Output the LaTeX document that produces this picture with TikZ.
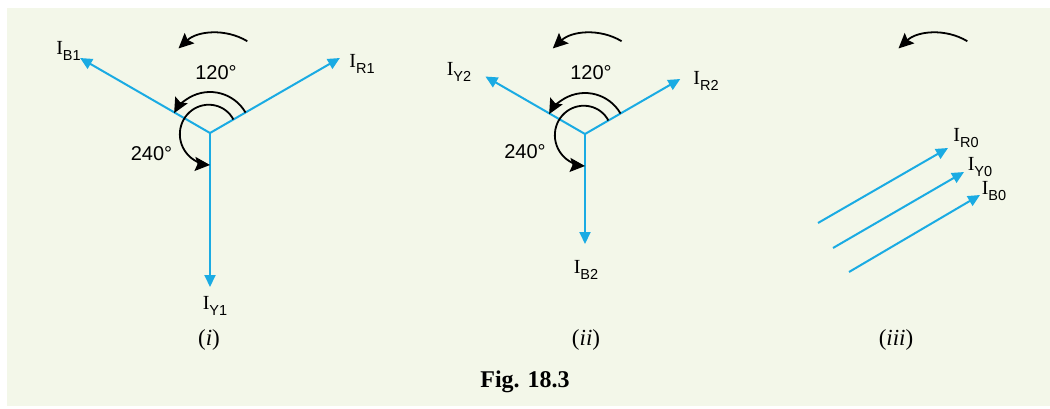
\documentclass[tikz,border=0pt]{standalone}
\usepackage{fontspec}
\setmainfont{Liberation Serif}
\setsansfont{Liberation Sans}
\usetikzlibrary{arrows.meta}
\definecolor{bgc}{HTML}{F3F7E9}
\definecolor{vec}{HTML}{1AABE3}
\newcommand{\curlab}[1]{\fontsize{20}{20}\selectfont I\raisebox{-6pt}{\sffamily\fontsize{14.5}{14.5}\selectfont #1}}
\begin{document}
\begin{tikzpicture}[x=1pt,y=1pt,
 phasor/.style={draw=vec, line width=2pt, -{Triangle[length=12pt,width=11pt]}},
 rot/.style={draw=black, line width=1.8pt, -{Stealth[length=15pt,width=14pt,inset=2.5pt]}},
 lab/.style={inner sep=0pt},
 deg/.style={inner sep=0pt,font=\sffamily\fontsize{20}{20}\selectfont},
 captxt/.style={inner sep=0pt,font=\fontsize{23}{23}\selectfont},
 figcap/.style={inner sep=0pt,font=\bfseries\fontsize{24}{24}\selectfont}]
\useasboundingbox (0,0) rectangle (1050,408);
\fill[bgc] (7,2) rectangle (1050,400);

% ---------- (i) ----------
\coordinate (O1) at (210,275);
\path (O1) ++(30:150) coordinate (R1);
\path (O1) ++(150:150) coordinate (B1);
\path (O1) ++(270:154) coordinate (Y1);
\draw[phasor] (O1) -- (R1);
\draw[phasor] (O1) -- (B1);
\draw[phasor] (O1) -- (Y1);
\draw[rot] ([shift={(30:41)}]O1) arc[start angle=30,end angle=151,radius=41];
\draw[rot,shift={(O1)}] plot[smooth,domain=30:270,samples=40]
  ({(27+5*(\x-30)/240)*cos(\x)},{(27+5*(\x-30)/240)*sin(\x)});
\coordinate (T1) at (217.7,317.5);
\draw[rot] ([shift={(59:57.5)}]T1) arc[start angle=59,end angle=133,radius=57.5];
\node[lab] (lB1) at (68.5,357) {\curlab{B1}};
\node[lab] (lR1) at (362,344) {\curlab{R1}};
\node[lab] (lY1) at (215,102) {\curlab{Y1}};
\node[deg] (d1a) at (216,335) {120°};
\node[deg] (d1b) at (151.5,254) {240°};
\node[captxt] (c1) at (209,68) {(\textit{i})};

% ---------- (ii) ----------
\coordinate (O2) at (585,274);
\path (O2) ++(30:110) coordinate (R2);
\path (O2) ++(150:115) coordinate (Y2);
\path (O2) ++(270:110) coordinate (B2);
\draw[phasor] (O2) -- (R2);
\draw[phasor] (O2) -- (Y2);
\draw[phasor] (O2) -- (B2);
\draw[rot] ([shift={(30:41)}]O2) arc[start angle=30,end angle=151,radius=41];
\draw[rot,shift={(O2)}] plot[smooth,domain=30:270,samples=40]
  ({(27+5*(\x-30)/240)*cos(\x)},{(27+5*(\x-30)/240)*sin(\x)});
\coordinate (T2) at (592,317.5);
\draw[rot] ([shift={(59:57.5)}]T2) arc[start angle=59,end angle=133,radius=57.5];
\node[lab] (lY2) at (459,336) {\curlab{Y2}};
\node[lab] (lR2) at (706,327) {\curlab{R2}};
\node[lab] (lB2) at (586,138) {\curlab{B2}};
\node[deg] (d2a) at (591,335) {120°};
\node[deg] (d2b) at (525,256) {240°};
\node[captxt] (c2) at (586,68) {(\textit{ii})};

% ---------- (iii) ----------
\coordinate (T3) at (937.7,317.5);
\draw[rot] ([shift={(59:57.5)}]T3) arc[start angle=59,end angle=133,radius=57.5];
\coordinate (S1) at (818,185); \coordinate (E1) at (948,260);
\coordinate (S2) at (833,160); \coordinate (E2) at (964,236);
\coordinate (S3) at (849,136); \coordinate (E3) at (980,213);
\draw[phasor] (S1) -- (E1);
\draw[phasor] (S2) -- (E2);
\draw[phasor] (S3) -- (E3);
\node[lab] (lR0) at (966,270) {\curlab{R0}};
\node[lab] (lY0) at (980,241) {\curlab{Y0}};
\node[lab] (lB0) at (994,217) {\curlab{B0}};
\node[captxt] (c3) at (896,68) {(\textit{iii})};

\node[figcap] (fig) at (525,26) {Fig. 18.3};
\end{tikzpicture}
\end{document}
